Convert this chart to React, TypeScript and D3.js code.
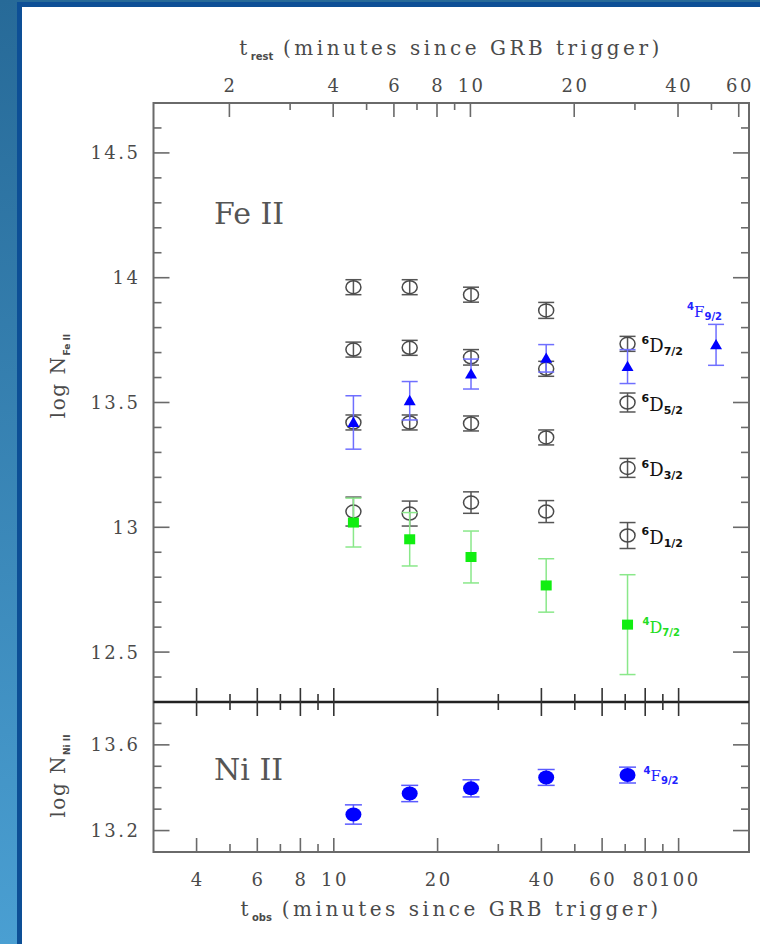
import React from 'react';
import * as d3 from 'd3';

// 1 + z, converts observer-frame time to rest-frame time
const ONE_PLUS_Z = 2.49;

// observation epochs (t_obs, minutes)
const tObs = [11.4, 16.6, 25.0, 41.3, 71.1];
const tObsF92 = [11.4, 16.6, 25.0, 41.3, 71.1, 128.4];

// Fe II excited levels (log N)
const d72 = [13.962, 13.962, 13.932, 13.869, 13.735];
const d72Err = [0.03, 0.03, 0.03, 0.032, 0.03];
const d52 = [13.712, 13.719, 13.681, 13.635, 13.5];
const d52Err = [0.03, 0.03, 0.031, 0.03, 0.038];
const d32 = [13.42, 13.42, 13.416, 13.36, 13.238];
const d32Err = [0.03, 0.03, 0.03, 0.03, 0.038];
const d12 = [13.063, 13.055, 13.099, 13.063, 12.967];
const d12Err = [0.058, 0.05, 0.043, 0.044, 0.052];
const f92 = [13.42, 13.507, 13.614, 13.677, 13.644, 13.731];
const f92Err = [0.107, 0.077, 0.06, 0.055, 0.068, 0.082];
const d4 = [13.019, 12.952, 12.881, 12.767, 12.61];
const d4Err = [0.098, 0.107, 0.104, 0.107, 0.2];

// Ni II 4F9/2
const ni = [13.275, 13.373, 13.397, 13.448, 13.459];
const niErr = [0.045, 0.038, 0.04, 0.037, 0.037];

// ticks
const obsMajor = [4, 6, 8, 10, 20, 40, 60, 80, 100];
const obsMinor = [5, 7, 9, 30, 50, 70, 90];
const restMajor = [2, 4, 6, 8, 10, 20, 40, 60];
const restMinor = [3, 5, 7, 9, 30, 50];
const feMajor = [12.5, 13, 13.5, 14, 14.5];
const feMinor = [12.4, 12.6, 12.7, 12.8, 12.9, 13.1, 13.2, 13.3, 13.4, 13.6, 13.7, 13.8, 13.9, 14.1, 14.2, 14.3, 14.4, 14.6];
const niMajor = [13.2, 13.6];
const niMinor = [13.3, 13.4, 13.5, 13.7];

const W = 760;
const H = 944;
const L = 153.5;
const R = 749;
const TOP = 103;
const MID = 702;
const BOT = 852;

const serif = '"DejaVu Serif", serif';
const sans = '"DejaVu Sans", sans-serif';
const axisCol = '#6a6a6a';
const textCol = '#4a4a4a';

const x = d3.scaleLog().domain([3, 160]).range([L, R]);
const xRest = d3.scaleLog().domain([3 / ONE_PLUS_Z, 160 / ONE_PLUS_Z]).range([L, R]);
const yFe = d3.scaleLinear().domain([12.3, 14.7]).range([MID, TOP]);
const yNi = d3.scaleLinear().domain([13.1, 13.8]).range([BOT, MID]);

const fmt = (v: number) => (Number.isInteger(v) ? String(v) : v.toFixed(1));

function ErrBar({ cx, y1, y2, color, cap = 8, sw = 1.5 }: any) {
  return (
    <g stroke={color} strokeWidth={sw} fill="none">
      <line x1={cx} x2={cx} y1={y1} y2={y2} />
      <line x1={cx - cap} x2={cx + cap} y1={y1} y2={y1} />
      <line x1={cx - cap} x2={cx + cap} y1={y2} y2={y2} />
    </g>
  );
}

function Label({ x0, y0, sup, main, sub, color, size = 18, subSize = 11 }: any) {
  return (
    <text x={x0} y={y0} fill={color} fontFamily={serif} fontSize={size}>
      <tspan fontFamily={sans} fontWeight="bold" fontSize={subSize} dy={-size * 0.45}>{sup}</tspan>
      <tspan dy={size * 0.45}>{main}</tspan>
      <tspan fontFamily={sans} fontWeight="bold" fontSize={subSize} dy={size * 0.2}>{sub}</tspan>
    </text>
  );
}

export default function App() {
  const circleSeries = [
    { v: d72, e: d72Err },
    { v: d52, e: d52Err },
    { v: d32, e: d32Err },
    { v: d12, e: d12Err },
  ];
  const last = tObs.length - 1;
  const lx = x(tObs[last]) + 14;

  return (
    <svg width={W} height={H} style={{ position: 'absolute', left: 0, top: 0 }}>
      <defs>
        <linearGradient id="bg" x1="0" y1="0" x2="0" y2="1">
          <stop offset="0%" stopColor="#276a98" />
          <stop offset="100%" stopColor="#4a9fd2" />
        </linearGradient>
      </defs>
      <rect width={W} height={H} fill="url(#bg)" />
      <rect x={17} y={2} width={W} height={H} fill="#0d4f96" />
      <rect x={22} y={7} width={W} height={H} fill="#ffffff" />

      {/* frames */}
      <g stroke={axisCol} strokeWidth={2} fill="none">
        <rect x={L} y={TOP} width={R - L} height={BOT - TOP} />
      </g>
      <line x1={L} x2={R} y1={MID} y2={MID} stroke="#222" strokeWidth={2.5} />

      {/* x ticks */}
      <g stroke={axisCol} strokeWidth={1.6}>
        {obsMajor.map((t) => (
          <g key={'om' + t}>
            <line x1={x(t)} x2={x(t)} y1={MID - 14} y2={MID + 14} stroke="#333" />
            <line x1={x(t)} x2={x(t)} y1={BOT} y2={BOT - 14} />
          </g>
        ))}
        {obsMinor.map((t) => (
          <g key={'on' + t}>
            <line x1={x(t)} x2={x(t)} y1={MID - 8} y2={MID + 8} stroke="#333" />
            <line x1={x(t)} x2={x(t)} y1={BOT} y2={BOT - 8} />
          </g>
        ))}
        {restMajor.map((t) => (
          <line key={'rm' + t} x1={xRest(t)} x2={xRest(t)} y1={TOP} y2={TOP + 14} />
        ))}
        {restMinor.map((t) => (
          <line key={'rn' + t} x1={xRest(t)} x2={xRest(t)} y1={TOP} y2={TOP + 7} />
        ))}
        {feMajor.map((v) => (
          <g key={'fm' + v}>
            <line x1={L} x2={L + 16} y1={yFe(v)} y2={yFe(v)} />
            <line x1={R} x2={R - 16} y1={yFe(v)} y2={yFe(v)} />
          </g>
        ))}
        {feMinor.map((v) => (
          <g key={'fn' + v}>
            <line x1={L} x2={L + 8} y1={yFe(v)} y2={yFe(v)} />
            <line x1={R} x2={R - 8} y1={yFe(v)} y2={yFe(v)} />
          </g>
        ))}
        {niMajor.map((v) => (
          <g key={'nm' + v}>
            <line x1={L} x2={L + 16} y1={yNi(v)} y2={yNi(v)} />
            <line x1={R} x2={R - 16} y1={yNi(v)} y2={yNi(v)} />
          </g>
        ))}
        {niMinor.map((v) => (
          <g key={'nn' + v}>
            <line x1={L} x2={L + 8} y1={yNi(v)} y2={yNi(v)} />
            <line x1={R} x2={R - 8} y1={yNi(v)} y2={yNi(v)} />
          </g>
        ))}
      </g>

      {/* tick labels */}
      <g fill={textCol} fontFamily={serif} fontSize={18} letterSpacing={2.5}>
        {obsMajor.map((t) => (
          <text key={'ol' + t} x={x(t) + 1.2} y={886} textAnchor="middle">{t}</text>
        ))}
        {restMajor.map((t) => (
          <text key={'rl' + t} x={xRest(t) + 1.2} y={92} textAnchor="middle">{t}</text>
        ))}
        {feMajor.map((v) => (
          <text key={'fl' + v} x={L - 13} y={yFe(v) + 6.5} textAnchor="end">{fmt(v)}</text>
        ))}
        {niMajor.map((v) => (
          <text key={'nl' + v} x={L - 13} y={yNi(v) + 6.5} textAnchor="end">{fmt(v)}</text>
        ))}
      </g>

      {/* axis titles */}
      <text x={451} y={916} textAnchor="middle" fill={textCol} fontFamily={serif} fontSize={20} letterSpacing={3.5}>
        t<tspan fontFamily={sans} fontWeight="bold" fontSize={10} letterSpacing={0} dy={5}>obs</tspan>
        <tspan dy={-5}> (minutes since GRB trigger)</tspan>
      </text>
      <text x={451} y={55} textAnchor="middle" fill={textCol} fontFamily={serif} fontSize={20} letterSpacing={3.5}>
        t<tspan fontFamily={sans} fontWeight="bold" fontSize={10} letterSpacing={0} dy={5}>rest</tspan>
        <tspan dy={-5}> (minutes since GRB trigger)</tspan>
      </text>
      <text transform="translate(65,376) rotate(-90)" textAnchor="middle" fill={textCol} fontFamily={serif} fontSize={20} letterSpacing={1.5}>
        log N<tspan fontFamily={sans} fontWeight="bold" fontSize={9} letterSpacing={0} dy={5}>Fe II</tspan>
      </text>
      <text transform="translate(65,776) rotate(-90)" textAnchor="middle" fill={textCol} fontFamily={serif} fontSize={20} letterSpacing={1.5}>
        log N<tspan fontFamily={sans} fontWeight="bold" fontSize={9} letterSpacing={0} dy={5}>Ni II</tspan>
      </text>

      {/* panel names */}
      <text x={214} y={224} fill="#555" fontFamily={serif} fontSize={30}>Fe II</text>
      <text x={214} y={780} fill="#555" fontFamily={serif} fontSize={30}>Ni II</text>

      {/* 6D circles */}
      {circleSeries.map((s, si) =>
        s.v.map((v, i) => (
          <g key={'c' + si + '-' + i}>
            <ErrBar cx={x(tObs[i])} y1={yFe(v + s.e[i])} y2={yFe(v - s.e[i])} color="#555" />
            <ellipse cx={x(tObs[i])} cy={yFe(v)} rx={7.5} ry={6.5} fill="none" stroke="#4a4a4a" strokeWidth={1.5} />
          </g>
        ))
      )}

      {/* 4F9/2 triangles */}
      {f92.map((v, i) => {
        const cx = x(tObsF92[i]);
        const cy = yFe(v);
        return (
          <g key={'t' + i}>
            <ErrBar cx={cx} y1={yFe(v + f92Err[i])} y2={yFe(v - f92Err[i])} color="#6f6fff" />
            <path d={d3.symbol(d3.symbolTriangle, 62)() as string} transform={`translate(${cx},${cy + 1})`} fill="#0000ff" />
          </g>
        );
      })}

      {/* 4D7/2 squares */}
      {d4.map((v, i) => {
        const cx = x(tObs[i]);
        const cy = yFe(v);
        return (
          <g key={'s' + i}>
            <ErrBar cx={cx} y1={yFe(v + d4Err[i])} y2={yFe(v - d4Err[i])} color="#8ae88a" />
            <rect x={cx - 5.5} y={cy - 5} width={11} height={10} fill="#11ee11" />
          </g>
        );
      })}

      {/* Ni II */}
      {ni.map((v, i) => {
        const cx = x(tObs[i]);
        return (
          <g key={'n' + i}>
            <ErrBar cx={cx} y1={yNi(v + niErr[i])} y2={yNi(v - niErr[i])} color="#5a5aff" cap={8.5} />
            <ellipse cx={cx} cy={yNi(v)} rx={8} ry={7} fill="#0000ff" />
          </g>
        );
      })}

      {/* level labels */}
      <Label x0={lx} y0={yFe(d72[last]) + 8} sup="6" main="D" sub="7/2" color="#111" />
      <Label x0={lx} y0={yFe(d52[last]) + 8} sup="6" main="D" sub="5/2" color="#111" />
      <Label x0={lx} y0={yFe(d32[last]) + 8} sup="6" main="D" sub="3/2" color="#111" />
      <Label x0={lx} y0={yFe(d12[last]) + 8} sup="6" main="D" sub="1/2" color="#111" />
      <Label x0={lx + 1} y0={yFe(d4[last]) + 8} sup="4" main="D" sub="7/2" color="#22dd22" size={16} subSize={10} />
      <Label x0={x(tObsF92[5]) - 29} y0={yFe(f92[5]) - 28} sup="4" main="F" sub="9/2" color="#2222ff" size={15} subSize={10} />
      <Label x0={lx + 2} y0={yNi(ni[last]) + 6} sup="4" main="F" sub="9/2" color="#2222ff" size={15} subSize={10} />
    </svg>
  );
}
